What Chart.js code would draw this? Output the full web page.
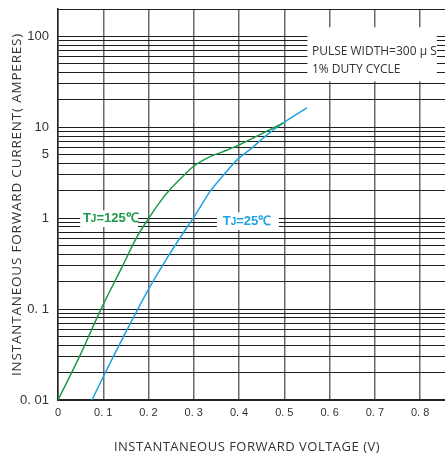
<!DOCTYPE html>
<html>
<head>
<meta charset="utf-8">
<script src="https://cdn.jsdelivr.net/npm/chart.js@4.4.0/dist/chart.umd.min.js"></script>
<style>
html, body { margin: 0; padding: 0; background: #fff; overflow: hidden; }
#wrap { width: 445px; height: 460px; position: relative; }
</style>
</head>
<body>
<div id="wrap"><canvas id="c"></canvas></div>
<script>
// Tj=125C curve (volts, amperes)
var hotV = [0, 0.05, 0.095, 0.14, 0.175, 0.203, 0.225, 0.247, 0.275, 0.299, 0.336, 0.365, 0.394, 0.446, 0.497];
var hotI = [0.01, 0.032, 0.1, 0.28, 0.63, 1.04, 1.5, 2.05, 2.85, 3.7, 4.75, 5.4, 6.2, 8.3, 11.1];
// Tj=25C curve
var coldV = [0.075, 0.1, 0.143, 0.199, 0.243, 0.284, 0.3, 0.336, 0.365, 0.394, 0.43, 0.461, 0.497, 0.55];
var coldI = [0.01, 0.018, 0.048, 0.162, 0.378, 0.78, 1.02, 1.97, 2.95, 4.3, 6.0, 8.2, 11.1, 16.3];

var xTickText = ["0", "0. 1", "0. 2", "0. 3", "0. 4", "0. 5", "0. 6", "0. 7", "0. 8"];
var yGrid = [0.01, 0.02, 0.03, 0.04, 0.05, 0.06, 0.07, 0.08, 0.09,
             0.1, 0.2, 0.3, 0.4, 0.5, 0.6, 0.7, 0.8, 0.9,
             1, 2, 3, 4, 5, 6, 7, 8, 9,
             10, 20, 30, 40, 50, 60, 70, 80, 90,
             100, 200];
var yLabelVal = [0.01, 0.1, 1, 5, 10, 100];
var yLabelText = ["0. 01", "0. 1", "1", "5", "10", "100"];

var GREEN = "#1c9a48", BLUE = "#1ea4e4";

function pts(xs, ys) { return xs.map(function (x, i) { return { x: x, y: ys[i] }; }); }

var notes = {
    id: "notes",
    beforeDatasetsDraw: function (chart) {
        var ctx = chart.ctx, X = chart.scales.x, Y = chart.scales.y;
        function box(x0, x1, y0, y1) {
            var a = X.getPixelForValue(x0), b = X.getPixelForValue(x1);
            var c = Y.getPixelForValue(y0), d = Y.getPixelForValue(y1);
            ctx.fillStyle = "#fff";
            ctx.fillRect(a, c, b - a, d - c);
        }
        ctx.save();
        box(0.551, 0.837, 126, 32);
        box(0.049, 0.177, 1.22, 0.80);
        box(0.351, 0.488, 1.16, 0.74);

        ctx.fillStyle = "#333";
        ctx.font = "12px 'Open Sans', sans-serif";
        ctx.textBaseline = "middle";
        ctx.textAlign = "left";
        ctx.fillText("PULSE WIDTH=300 \u03bc S", X.getPixelForValue(0.561), Y.getPixelForValue(68));
        ctx.fillText("1% DUTY CYCLE", X.getPixelForValue(0.561), Y.getPixelForValue(43.3));

        function tj(txt, x, y, col) {
            var px = X.getPixelForValue(x), py = Y.getPixelForValue(y);
            ctx.fillStyle = col;
            ctx.font = "bold 13px 'Liberation Sans Narrow', 'Liberation Sans', sans-serif";
            ctx.fillText("T", px, py);
            px += ctx.measureText("T").width;
            ctx.font = "bold 10px 'Liberation Sans Narrow', 'Liberation Sans', sans-serif";
            ctx.fillText("J", px, py + 1);
            px += ctx.measureText("J").width;
            ctx.font = "bold 13px 'Liberation Sans Narrow', 'Liberation Sans', sans-serif";
            ctx.fillText(txt, px, py);
        }
        tj("=125\u2103", 0.055, 1.0, GREEN);
        tj("=25\u2103", 0.364, 0.93, BLUE);
        ctx.restore();
    },
    afterDraw: function (chart) {
        var ctx = chart.ctx, a = chart.chartArea;
        ctx.save();
        ctx.fillStyle = "#333";
        ctx.textAlign = "center";
        ctx.textBaseline = "middle";
        ctx.font = "13px 'Open Sans', sans-serif";
        ctx.letterSpacing = "0.5px";
        ctx.fillText("INSTANTANEOUS FORWARD VOLTAGE (V)", 247, 447);
        ctx.translate(17, (a.top + a.bottom) / 2);
        ctx.rotate(-Math.PI / 2);
        ctx.letterSpacing = "0.8px";
        ctx.font = "13.5px 'Open Sans', sans-serif";
        ctx.fillText("INSTANTANEOUS FORWARD CURRENT( AMPERES)", 0, 0);
        ctx.restore();
    }
};

new Chart(document.getElementById("c"), {
    type: "line",
    data: {
        datasets: [
            { label: "Tj=125", data: pts(hotV, hotI), borderColor: GREEN, borderWidth: 1.5, pointRadius: 0, cubicInterpolationMode: "monotone", fill: false },
            { label: "Tj=25", data: pts(coldV, coldI), borderColor: BLUE, borderWidth: 1.5, pointRadius: 0, cubicInterpolationMode: "monotone", fill: false }
        ]
    },
    options: {
        responsive: true,
        maintainAspectRatio: false,
        animation: false,
        layout: { padding: { top: 9, right: 0, bottom: 0, left: 0 } },
        plugins: { legend: { display: false }, tooltip: { enabled: false } },
        scales: {
            x: {
                type: "linear", min: 0, max: 0.855,
                afterFit: function (s) { s.height = 60; s.paddingLeft = 0; s.paddingRight = 0; },
                ticks: {
                    stepSize: 0.1, includeBounds: false, padding: 6, color: "#333",
                    font: { family: "'Liberation Sans', Arial, sans-serif", size: 11 },
                    callback: function (v) { return xTickText[Math.round(v * 10)]; }
                },
                grid: { color: "#6a6a6a", lineWidth: 1.5, drawTicks: false },
                border: { color: "#222", width: 1.5 }
            },
            y: {
                type: "logarithmic", min: 0.01, max: 200,
                afterFit: function (s) { s.width = 58; s.paddingTop = 0; s.paddingBottom = 0; },
                afterBuildTicks: function (s) { s.ticks = yGrid.map(function (v) { return { value: v }; }); },
                ticks: {
                    autoSkip: false, padding: 9, color: "#333",
                    font: { family: "'Liberation Sans', Arial, sans-serif", size: 13 },
                    callback: function (v) {
                        var i = yLabelVal.indexOf(v);
                        return i < 0 ? "" : yLabelText[i];
                    }
                },
                grid: { color: "#1e1e1e", lineWidth: 1, drawTicks: false },
                border: { color: "#222", width: 1.5 }
            }
        }
    },
    plugins: [notes]
});
</script>
</body>
</html>
